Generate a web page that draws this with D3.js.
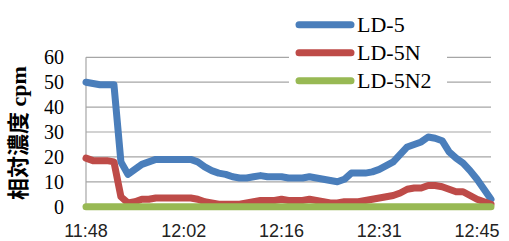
<!DOCTYPE html>
<html><head><meta charset="utf-8">
<script src="https://cdn.jsdelivr.net/npm/d3@7"></script>
<style>html,body{margin:0;padding:0;background:#fff;}</style>
</head><body>
<script>
const timeLabels = ["11:48","12:02","12:16","12:31","12:45"];
const labelIndex = [0,14,28,42,56];
const seriesNames = ["LD-5","LD-5N","LD-5N2"];
const ld5 = [50,49.5,49,49,49,18,13,15,17,18,19,19,19,19,19,19,18,16,14.5,13.5,13,12,11.5,11.5,12,12.5,12,12,12,11.5,11.5,11.5,12,11.5,11,10.5,10,11,13.5,13.5,13.5,14,15,16.5,18,21,24,25,26,28,27.5,26.5,22,19.5,17.5,14.5,11,7,3];
const ld5n = [19.5,18.5,18.5,18.5,18,4,1.5,2,3,3,3.5,3.5,3.5,3.5,3.5,3.5,3,2,1.5,1,1,1,1,1.5,2,2.5,2.5,2.5,3,2.5,2.5,2.5,3,2.5,2,1.5,1.5,2,2,2,2.5,3,3.5,4,4.5,5.5,7,7.5,7.5,8.5,8.5,8,7,6,6,4.5,3,2,1];
const ld5n2 = ld5.map(() => 0);
const yTicks = [0,10,20,30,40,50,60];
const colors = ["#4A7EBB","#BE4B48","#98B954"];

const W = 509, H = 241;
const svg = d3.select("body").append("svg").attr("width", W).attr("height", H);
const x = d3.scaleLinear().domain([0, ld5.length - 1]).range([86, 491]);
const y = d3.scaleLinear().domain([0, 60]).range([206.7, 57.3]);

// gridlines
svg.append("g").selectAll("line").data(yTicks.filter(d => d > 0)).join("line")
  .attr("x1", 86).attr("x2", 491)
  .attr("y1", d => y(d)).attr("y2", d => y(d))
  .attr("stroke", "#A6A6A6").attr("stroke-width", 1.2);
// axis line
svg.append("line").attr("x1", 86).attr("x2", 86).attr("y1", y(60)).attr("y2", y(0))
  .attr("stroke", "#A6A6A6").attr("stroke-width", 1.2);

// y tick labels
svg.append("g").selectAll("text").data(yTicks).join("text")
  .attr("x", 64).attr("y", d => y(d)).attr("dy", "0.35em")
  .attr("text-anchor", "end")
  .style("font-family", "'Liberation Serif', serif").style("font-size", "20px")
  .text(d => d);

// x tick labels
svg.append("g").selectAll("text").data(labelIndex).join("text")
  .attr("x", (d) => x(d)).attr("y", 237)
  .attr("text-anchor", "middle")
  .style("font-family", "'Liberation Sans', sans-serif").style("font-size", "18px")
  .style("fill", "#222")
  .text((d, i) => timeLabels[i]);

// y title
svg.append("text")
  .attr("transform", "translate(26,133) rotate(-90)")
  .attr("text-anchor", "middle")
  .style("font-family", "'Liberation Serif', 'Noto Sans CJK JP', serif")
  .style("font-size", "22px").style("font-weight", "bold")
  .text("相対濃度 cpm");

// legend background
svg.append("rect").attr("x", 289).attr("y", 0).attr("width", 158).attr("height", 93).attr("fill", "#fff");

// series
const line = d3.line().x((d, i) => x(i)).y(d => y(d));
[ld5, ld5n, ld5n2].forEach((s, k) => {
  svg.append("path").datum(s).attr("d", line)
    .attr("fill", "none").attr("stroke", colors[k]).attr("stroke-width", 7)
    .attr("stroke-linejoin", "round").attr("stroke-linecap", "round");
});

// legend
const lg = svg.append("g");
seriesNames.forEach((n, k) => {
  const yy = 24.7 + k * 28;
  lg.append("line").attr("x1", 299).attr("x2", 351).attr("y1", yy).attr("y2", yy)
    .attr("stroke", colors[k]).attr("stroke-width", 7).attr("stroke-linecap", "round");
  lg.append("text").attr("x", 357).attr("y", yy).attr("dy", "0.35em")
    .style("font-family", "'Liberation Serif', serif").style("font-size", "22px")
    .text(n);
});
</script>
</body></html>
